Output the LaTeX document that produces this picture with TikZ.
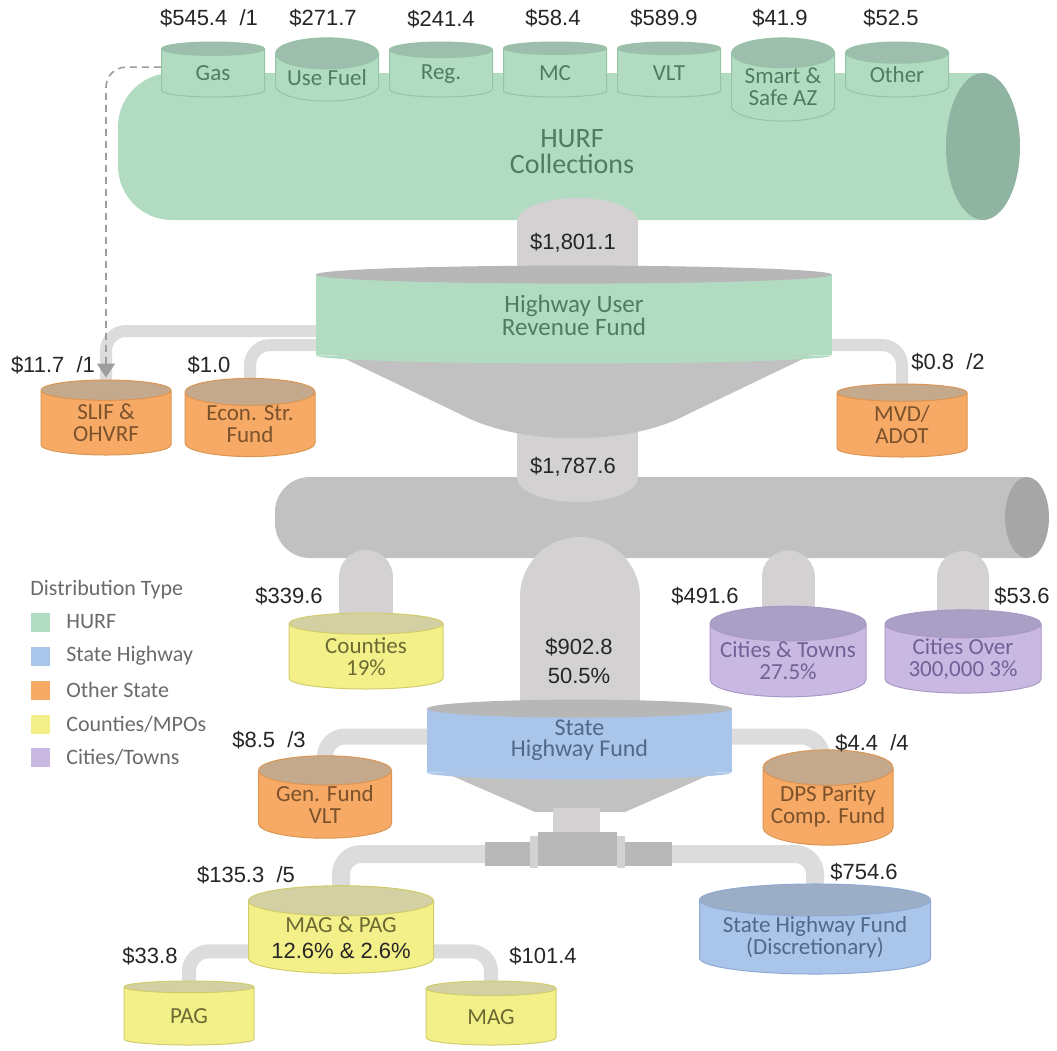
\documentclass[tikz,border=0pt]{standalone}
\usepackage{fontspec}
\setmainfont{Carlito}
\newfontfamily\valfont{Liberation Sans}
\usetikzlibrary{arrows.meta,positioning,calc,shapes.geometric}

\definecolor{hurfbody}{HTML}{B2DCC2}
\definecolor{hurfcap}{HTML}{9DBEAD}
\definecolor{hurfend}{HTML}{90B4A2}
\definecolor{hurfline}{HTML}{96C2A6}
\definecolor{hurfink}{HTML}{4F7D60}
\definecolor{pipegray}{HTML}{C2C1C1}
\definecolor{pipelight}{HTML}{D3D1D1}
\definecolor{pipeend}{HTML}{A7A6A6}
\definecolor{thinpipe}{HTML}{DDDCDC}
\definecolor{lidgray}{HTML}{B8B7B7}
\definecolor{valvegray}{HTML}{B9B8B8}
\definecolor{orangebody}{HTML}{F6AA66}
\definecolor{orangecap}{HTML}{C4A98C}
\definecolor{orangeline}{HTML}{DC9552}
\definecolor{orangeink}{HTML}{7B522C}
\definecolor{yellowbody}{HTML}{F3F08A}
\definecolor{yellowcap}{HTML}{D3D0A3}
\definecolor{yellowline}{HTML}{D2CD6C}
\definecolor{yellowink}{HTML}{6C6A33}
\definecolor{purplebody}{HTML}{C9B9E2}
\definecolor{purplecap}{HTML}{AA9FC4}
\definecolor{purpleline}{HTML}{A999C6}
\definecolor{purpleink}{HTML}{6E6296}
\definecolor{bluebody}{HTML}{AAC5EA}
\definecolor{bluecap}{HTML}{9CADC6}
\definecolor{blueline}{HTML}{8EAAD2}
\definecolor{blueink}{HTML}{4F688B}

\pgfdeclarelayer{back}
\pgfdeclarelayer{pipes}
\pgfsetlayers{back,pipes,main}

\begin{document}
\begin{tikzpicture}[
  x=0.5pt, y=-0.5pt,
  val/.style={font=\valfont\fontsize{11}{14.5}\selectfont, text=black!85, inner sep=0pt, align=center},
  tank/.style={cylinder, shape border rotate=90, cylinder uses custom fill, anchor=shape center, align=center, inner sep=0pt, line width=0.5pt, font=\fontsize{11.5}{11}\selectfont},
  tanksize/.style n args={3}{minimum width=#1, minimum height=#2, aspect=#3},
  greentank/.style={tank, draw=hurfline, cylinder body fill=hurfbody, cylinder end fill=hurfcap, text=hurfink},
  orangetank/.style={tank, draw=orangeline, cylinder body fill=orangebody, cylinder end fill=orangecap, text=orangeink},
  yellowtank/.style={tank, draw=yellowline, cylinder body fill=yellowbody, cylinder end fill=yellowcap, text=yellowink},
  purpletank/.style={tank, draw=purpleline, cylinder body fill=purplebody, cylinder end fill=purplecap, text=purpleink},
  bluetank/.style={tank, draw=blueline, cylinder body fill=bluebody, cylinder end fill=bluecap, text=blueink},
  fund/.style={inner sep=0pt, align=center},
  pipe/.style={draw=thinpipe, rounded corners=10pt},
  drop/.style={draw=pipelight, line cap=round},
  feed/.style={draw=black!38, dash pattern=on 3.5pt off 2.5pt, line width=0.8pt, rounded corners=10pt, -{Triangle[width=9pt,length=7pt,fill=black!38]}, shorten >=1pt},
  key/.style={minimum size=9.5pt, inner sep=0pt},
  keytext/.style={font=\fontsize{11}{11}\selectfont, text=black!58, inner sep=0pt}
]
\useasboundingbox (0,0) rectangle (1057,1051);

\begin{pgfonlayer}{back}
\fill[white] (0,0) rectangle (1057,1051);
% HURF collection tank
\fill[hurfbody] (983,73) -- (172,73) arc[start angle=90, end angle=180, radius=27pt] -- (118,166) arc[start angle=180, end angle=270, radius=27pt] -- (983,220) -- cycle;
\fill[hurfend] (983,146.5) ellipse[x radius=18.5pt, y radius=36.75pt];
% distribution pipe
\fill[pipegray] (1027,477) -- (310,477) arc[start angle=90, end angle=180, radius=17.5pt] -- (275,523) arc[start angle=180, end angle=270, radius=17.5pt] -- (1027,558) -- cycle;
\fill[pipeend] (1027,517.5) ellipse[x radius=11pt, y radius=20.25pt];
\end{pgfonlayer}

\node[fund, text=hurfink, font=\fontsize{14}{13}\selectfont] (hurfc) at (572,152) {HURF\\Collections};

% collection sources
\node[greentank, tanksize={51.5pt}{27.5pt}{0.39}] (gas) at (213,69.5) {Gas};
\node[greentank, tanksize={51.5pt}{27.5pt}{0.39}] (fuel) at (327,69.5) {Use Fuel};
\node[greentank, tanksize={51.5pt}{27.5pt}{0.39}] (reg) at (441,69.5) {Reg.};
\node[greentank, tanksize={51.5pt}{27.5pt}{0.39}] (mc) at (555,69.5) {MC};
\node[greentank, tanksize={51.5pt}{27.5pt}{0.39}] (vlt) at (669,69.5) {VLT};
\node[greentank, tanksize={51.5pt}{37.5pt}{0.39}] (smart) at (783,79.5) {Smart \&\\Safe AZ};
\node[greentank, tanksize={51.5pt}{27.5pt}{0.39}] (other) at (897,69.5) {Other};

\node[val] (vgas) at (209,18) {\$545.4~~/1};
\node[val] (vfuel) at (323,18) {\$271.7};
\node[val] (vreg) at (441,19) {\$241.4};
\node[val] (vmc) at (553,18) {\$58.4};
\node[val] (vvlt) at (664,18) {\$589.9};
\node[val] (vsmart) at (780,18) {\$41.9};
\node[val] (vother) at (891,18) {\$52.5};

% HURF fund
\fill[pipegray] (316,345) -- (462,415) .. controls (520,446) and (628,446) .. (686,415) -- (832,345) -- cycle;
\node[fund, fill=hurfbody, text=hurfink, font=\fontsize{12.5}{11.5}\selectfont, minimum width=258pt, minimum height=40pt] (hurf) at (574,315) {Highway User\\Revenue Fund};
\fill[hurfbody] (hurf.south west) arc[start angle=180, end angle=360, x radius=129pt, y radius=4pt] -- cycle;
\fill[lidgray] (hurf.north) ellipse[x radius=129pt, y radius=4.5pt];

\node[val] (v1801) at (573,243) {\$1,801.1};
\node[val] (v1787) at (573,467) {\$1,787.6};

% other state
\node[orangetank, tanksize={65pt}{37.5pt}{0.31}] (slif) at (106,417.5) {SLIF \&\\OHVRF};
\node[orangetank, tanksize={65pt}{37.5pt}{0.31}] (econ) at (250,417.5) {Econ. Str.\\Fund};
\node[orangetank, tanksize={65pt}{36.5pt}{0.31}] (mvd) at (902,420.5) {MVD/\\ADOT};
\node[val] (vslif) at (53,365) {\$11.7~~/1};
\node[val] (vecon) at (209,365) {\$1.0};
\node[val] (vmvd) at (948,362) {\$0.8~~/2};

% local shares
\node[yellowtank, tanksize={77pt}{38pt}{0.26}] (cnty) at (366,651) {Counties\\19\%};
\node[purpletank, tanksize={78pt}{38.5pt}{0.256}] (cities) at (788,651.5) {Cities \& Towns\\27.5\%};
\node[purpletank, tanksize={78pt}{38.5pt}{0.256}] (over) at (963,651.5) {Cities Over\\300,000 3\%};
\node[val] (vcnty) at (289,596) {\$339.6};
\node[val] (vcities) at (705,596) {\$491.6};
\node[val] (vover) at (1022,596) {\$53.6};

% state highway fund
\fill[pipegray] (427,765) -- (535,812) -- (625,812) -- (732,765) -- cycle;
\fill[pipelight] (553,808) rectangle (600,832);
\node[fill=valvegray, minimum width=93.5pt, minimum height=12pt, inner sep=0pt] (valve) at (578.5,854) {};
\fill[valvegray] (538,832) rectangle (617,866);
\fill[pipelight] (530,836) rectangle (538,868);
\fill[pipelight] (617,836) rectangle (625,868);
\node[fund, fill=bluebody, text=blueink, font=\fontsize{12}{10.5}\selectfont, minimum width=152.5pt, minimum height=31.5pt] (shf) at (579.5,740.5) {State\\Highway Fund};
\fill[bluebody] (shf.south west) arc[start angle=180, end angle=360, x radius=76.25pt, y radius=3.5pt] -- cycle;
\fill[lidgray] (shf.north) ellipse[x radius=76.25pt, y radius=4.5pt];
\node[val] (v902) at (579,661) {\$902.8\\50.5\%};

\node[orangetank, tanksize={66.5pt}{32pt}{0.3}] (gen) at (325,797) {Gen. Fund\\VLT};
\node[orangetank, tanksize={65pt}{32.5pt}{0.31}] (dps) at (828,797.5) {DPS Parity\\Comp. Fund};
\node[val] (vgen) at (269,740) {\$8.5~~/3};
\node[val] (vdps) at (872,743) {\$4.4~~/4};

\node[yellowtank, tanksize={92.5pt}{39.5pt}{0.216}] (magpag) at (341,929.5) {MAG \& PAG\\[2pt]{\valfont\fontsize{11}{11}\selectfont\color{black!85}12.6\% \& 2.6\%}};
\node[bluetank, tanksize={115.5pt}{39pt}{0.173}] (disc) at (815,929) {State Highway Fund\\(Discretionary)};
\node[yellowtank, tanksize={65pt}{32pt}{0.31}] (pag) at (189,1013) {PAG};
\node[yellowtank, tanksize={65pt}{32pt}{0.31}] (mag) at (491,1013) {MAG};
\node[val] (vmagpag) at (246,875) {\$135.3~~/5};
\node[val] (vdisc) at (864,872) {\$754.6};
\node[val] (vpag) at (150,956) {\$33.8};
\node[val] (vmag) at (543,956) {\$101.4};

% pipes
\coordinate (distfoot) at (650,577);
\coordinate (trunkfoot) at (578,597);
\begin{pgfonlayer}{pipes}
\fill[pipelight] (517,280) -- (517,222) arc[start angle=180, end angle=0, x radius=30.25pt, y radius=12pt] -- (638,280) -- cycle;
\fill[pipelight] (517,400) -- (517,478) arc[start angle=180, end angle=360, x radius=30.25pt, y radius=12pt] -- (638,400) -- cycle;
\draw[drop, line width=27pt] (cnty.center) -- (cnty.center |- distfoot);
\draw[drop, line width=26.5pt] (cities.center) -- (cities.center |- distfoot);
\draw[drop, line width=26pt] (over.center) -- (over.center |- distfoot);
\draw[drop, line width=60pt] (shf.center) -- (shf.center |- trunkfoot);
\draw[pipe, line width=6pt] ([yshift=-8pt]hurf.center) -| (slif.center);
\draw[pipe, line width=6pt] ([yshift=-15pt]hurf.center) -| (econ.center);
\draw[pipe, line width=6pt] ([yshift=-15pt]hurf.center) -| (mvd.center);
\draw[pipe, line width=8pt] ([yshift=2pt]shf.center) -| (gen.center);
\draw[pipe, line width=8pt] ([yshift=2pt]shf.center) -| ([xshift=-3pt]dps.center);
\draw[pipe, line width=9pt] (valve.center) -| (magpag.center);
\draw[pipe, line width=9pt] (valve.center) -| (disc.center);
\draw[pipe, line width=7pt] ([yshift=-7pt]magpag.center) -| (pag.center);
\draw[pipe, line width=7pt] ([yshift=-7pt]magpag.center) -| (mag.center);
\end{pgfonlayer}

\draw[feed] ([yshift=3pt]gas.west) -| (slif.north);

% legend
\node[keytext, anchor=west] (legtitle) at (30,590) {Distribution Type};
\node[key, fill=hurfbody] (khurf) at (40,622) {};
\node[key, fill=bluebody] (kshf) at (40,656) {};
\node[key, fill=orangebody] (kother) at (40,690) {};
\node[key, fill=yellowbody] (kcnty) at (40,724) {};
\node[key, fill=purplebody] (kcity) at (40,757) {};
\node[keytext, right=8pt of khurf] (thurf) {HURF};
\node[keytext, right=8pt of kshf] (tshf) {State Highway};
\node[keytext, right=8pt of kother] (tother) {Other State};
\node[keytext, right=8pt of kcnty] (tcnty) {Counties/MPOs};
\node[keytext, right=8pt of kcity] (tcity) {Cities/Towns};

\end{tikzpicture}
\end{document}
